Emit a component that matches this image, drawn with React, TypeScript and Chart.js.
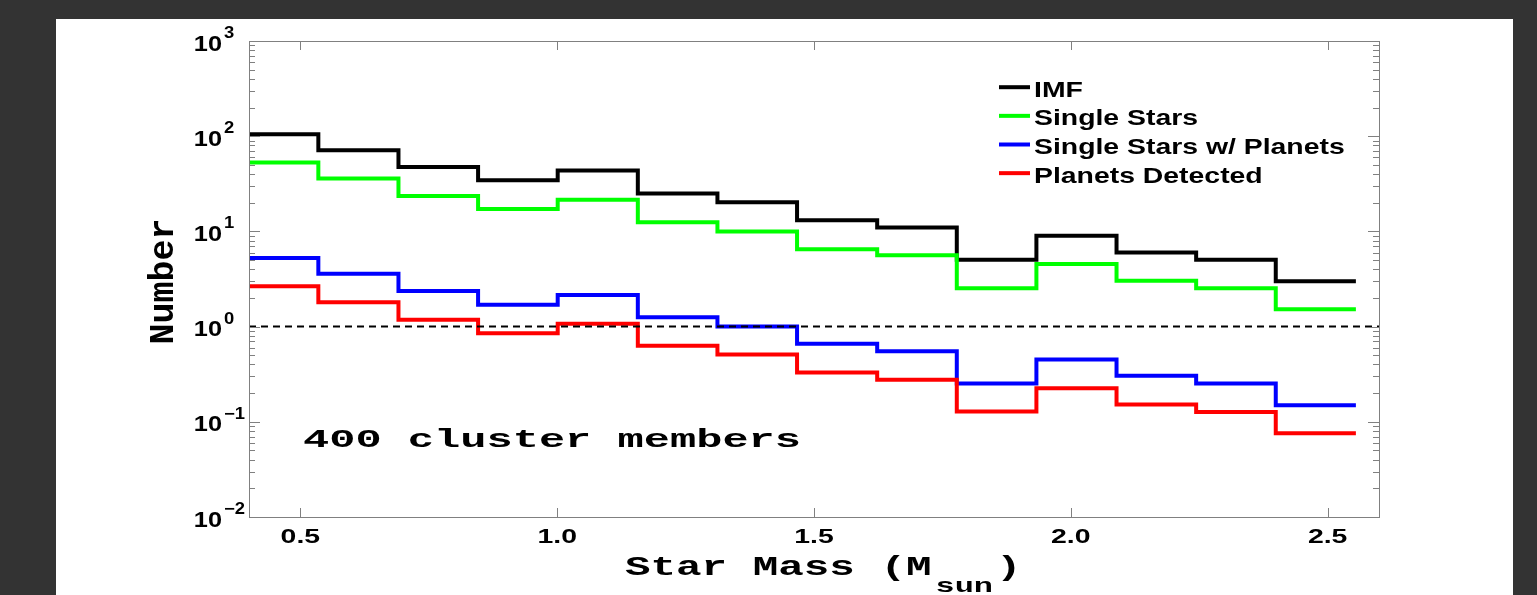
import React, { useEffect, useRef } from "react";
import { Chart, registerables } from "chart.js";

Chart.register(...registerables);

// ---- data ----
const binEdges = [0.38, 0.535, 0.691, 0.846, 1.001, 1.157, 1.312, 1.467, 1.623, 1.778, 1.933, 2.089, 2.244, 2.399, 2.555];
const imf = [105, 71, 47.5, 34.5, 43.5, 25, 20.2, 13.1, 11.0, 5.05, 9.0, 6.0, 5.05, 3.0];
const singleStars = [53, 36, 23.5, 17.2, 21.5, 12.5, 10.0, 6.5, 5.6, 2.53, 4.55, 3.03, 2.53, 1.52];
const singleWithPlanets = [5.25, 3.58, 2.37, 1.7, 2.15, 1.25, 1.0, 0.66, 0.55, 0.252, 0.45, 0.305, 0.252, 0.149];
const planetsDetected = [2.65, 1.8, 1.18, 0.85, 1.07, 0.63, 0.51, 0.33, 0.277, 0.128, 0.225, 0.152, 0.127, 0.076];
const seriesLabels = ["IMF", "Single Stars", "Single Stars w/ Planets", "Planets Detected"];
const seriesColors = ["#000000", "#00ff00", "#0000ff", "#ff0000"];
const referenceLevel = 1;
const xTicks = [0.5, 1.0, 1.5, 2.0, 2.5];
const yExponents = [-2, -1, 0, 1, 2, 3];
const xMin = 0.4;
const xMax = 2.6;
const yMin = 0.01;
const yMax = 1000;
const annotationText = "400 cluster members";
const xTitleMain = "Star Mass (M";
const xTitleSub = "sun";
const xTitleEnd = ")";
const yTitle = "Number";

const SANS = '"Liberation Sans", Arial, sans-serif';
const MONO = '"Liberation Mono", "Courier New", monospace';

function stepPoints(values: number[]) {
  const pts = values.map((v, i) => ({ x: binEdges[i], y: v }));
  pts.push({ x: binEdges[values.length], y: values[values.length - 1] });
  return pts;
}

function drawText(
  ctx: CanvasRenderingContext2D,
  s: string,
  x: number,
  y: number,
  font: string,
  sx: number,
  align: CanvasTextAlign = "left"
) {
  ctx.save();
  ctx.font = font;
  ctx.translate(x, y);
  ctx.scale(sx, 1);
  ctx.textAlign = align;
  ctx.textBaseline = "alphabetic";
  ctx.fillStyle = "#000";
  ctx.fillText(s, 0, 0);
  const w = ctx.measureText(s).width * sx;
  ctx.restore();
  return w;
}

const decorPlugin = {
  id: "decor",
  afterDatasetsDraw(chart: any) {
    const ctx: CanvasRenderingContext2D = chart.ctx;
    const ca = chart.chartArea;
    const xs = chart.scales.x;
    const ys = chart.scales.y;

    // axes box
    ctx.save();
    ctx.strokeStyle = "#808080";
    ctx.lineWidth = 1;
    ctx.strokeRect(Math.round(ca.left) + 0.5, Math.round(ca.top) + 0.5, Math.round(ca.right - ca.left), Math.round(ca.bottom - ca.top));

    // x ticks (inward, bottom and top)
    ctx.beginPath();
    for (const v of xTicks) {
      const px = Math.round(xs.getPixelForValue(v)) + 0.5;
      ctx.moveTo(px, ca.bottom);
      ctx.lineTo(px, ca.bottom - 9);
      ctx.moveTo(px, ca.top);
      ctx.lineTo(px, ca.top + 9);
    }
    // y ticks (major + minor, left and right)
    for (const e of yExponents) {
      const py = Math.round(ys.getPixelForValue(Math.pow(10, e))) + 0.5;
      ctx.moveTo(ca.left, py);
      ctx.lineTo(ca.left + 11, py);
      ctx.moveTo(ca.right, py);
      ctx.lineTo(ca.right - 11, py);
      if (e < yExponents[yExponents.length - 1]) {
        for (let m = 2; m <= 9; m++) {
          const my = Math.round(ys.getPixelForValue(m * Math.pow(10, e))) + 0.5;
          ctx.moveTo(ca.left, my);
          ctx.lineTo(ca.left + 6, my);
          ctx.moveTo(ca.right, my);
          ctx.lineTo(ca.right - 6, my);
        }
      }
    }
    ctx.stroke();
    ctx.restore();

    // x tick labels
    for (const v of xTicks) {
      drawText(ctx, v.toFixed(1), xs.getPixelForValue(v), 523.7, `bold 20px ${SANS}`, 1.42, "center");
    }
    // y tick labels
    for (const e of yExponents) {
      const py = ys.getPixelForValue(Math.pow(10, e));
      drawText(ctx, "10", 166, py + 9.5, `bold 22px ${SANS}`, 1.15, "right");
      const sup = e < 0 ? "\u2212" + String(-e) : String(e);
      drawText(ctx, sup, 168, py - 3, `bold 16px ${SANS}`, 1.15, "left");
    }

    // y title
    ctx.save();
    ctx.translate(117, 262.5);
    ctx.rotate(-Math.PI / 2);
    ctx.font = `bold 35px ${MONO}`;
    ctx.textAlign = "center";
    ctx.fillStyle = "#000";
    ctx.fillText(yTitle, 0, 0);
    ctx.restore();

    // x title with subscript
    const x0 = 569;
    const w1 = drawText(ctx, xTitleMain, x0, 556, `bold 28px ${MONO}`, 1.52, "left");
    const subX = x0 + w1 + 4;
    const w2 = drawText(ctx, xTitleSub, subX, 573, `bold 21px ${MONO}`, 1.52, "left");
    drawText(ctx, xTitleEnd, subX + w2 + 3, 556, `bold 28px ${MONO}`, 1.52, "left");

    // annotation
    drawText(ctx, annotationText, 247, 427.5, `bold 26px ${MONO}`, 1.68, "left");

    // legend
    const ds = chart.data.datasets.filter((d: any) => d.label && d.label !== "ref");
    ds.forEach((d: any, i: number) => {
      const base = 77.7 + i * 28.65;
      ctx.save();
      ctx.strokeStyle = d.borderColor;
      ctx.lineWidth = 4;
      ctx.beginPath();
      ctx.moveTo(943, base - 9.5);
      ctx.lineTo(974, base - 9.5);
      ctx.stroke();
      ctx.restore();
      drawText(ctx, d.label, 978, base, `bold 22px ${SANS}`, 1.29, "left");
    });
  },
};

export default function App() {
  const ref = useRef<HTMLCanvasElement | null>(null);
  useEffect(() => {
    if (!ref.current) return;
    const allSeries = [imf, singleStars, singleWithPlanets, planetsDetected];
    const datasets: any[] = allSeries.map((vals, i) => ({
      label: seriesLabels[i],
      data: stepPoints(vals),
      borderColor: seriesColors[i],
      backgroundColor: seriesColors[i],
      borderWidth: 4,
      stepped: "before",
      pointRadius: 0,
      fill: false,
      borderJoinStyle: "miter",
      borderCapStyle: "butt",
      order: 4 - i,
    }));
    datasets.push({
      label: "ref",
      data: [
        { x: xMin, y: referenceLevel },
        { x: xMax, y: referenceLevel },
      ],
      borderColor: "#000000",
      borderWidth: 2,
      borderDash: [7, 5],
      pointRadius: 0,
      fill: false,
      order: -1,
    });
    const chart = new Chart(ref.current, {
      type: "line",
      data: { datasets },
      options: {
        animation: false,
        responsive: false,
        devicePixelRatio: 1,
        layout: { padding: { left: 193, top: 22, right: 134, bottom: 78 } },
        plugins: { legend: { display: false }, tooltip: { enabled: false } },
        scales: {
          x: { type: "linear", min: xMin, max: xMax, display: false },
          y: { type: "logarithmic", min: yMin, max: yMax, display: false },
        },
      },
      plugins: [decorPlugin],
    } as any);
    return () => chart.destroy();
  }, []);

  return (
    <div style={{ position: "fixed", left: 0, top: 0, width: 1537, height: 595, background: "#333333", overflow: "hidden" }}>
      <div style={{ position: "absolute", left: 56, top: 19, width: 1457, height: 576, background: "#ffffff" }}>
        <canvas ref={ref} width={1457} height={576} style={{ width: 1457, height: 576, display: "block" }} />
      </div>
    </div>
  );
}
